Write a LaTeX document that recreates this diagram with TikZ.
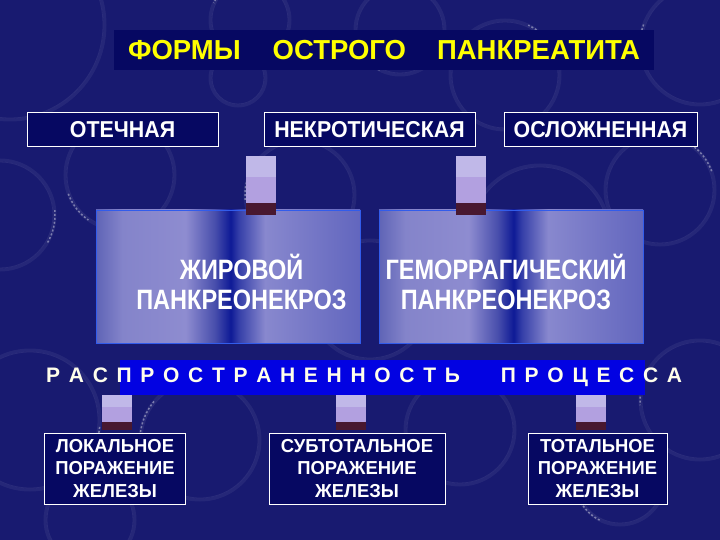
\documentclass[tikz,border=0pt]{standalone}
\usepackage{fontspec}
\setmainfont{Liberation Sans}
\newfontfamily\midf{Liberation Sans}[FakeStretch=0.93]
\newfontfamily\botf{Liberation Sans}[FakeStretch=0.98]
\newfontfamily\narf{Liberation Sans}[FakeStretch=0.84]
\usetikzlibrary{calc}
\definecolor{bgc}{RGB}{24,26,112}
\definecolor{navybox}{RGB}{6,8,98}
\definecolor{lavtop}{RGB}{192,184,232}
\definecolor{lavmid}{RGB}{178,160,224}
\definecolor{barmar}{RGB}{72,24,48}
\definecolor{bandblue}{RGB}{2,2,226}
\definecolor{ttl}{RGB}{255,255,0}
\definecolor{edgeblue}{RGB}{50,92,235}
\definecolor{g0}{RGB}{95,100,182}
\definecolor{g1}{RGB}{132,132,202}
\definecolor{g2}{RGB}{142,140,208}
\definecolor{g3}{RGB}{72,78,172}
\definecolor{g4}{RGB}{14,26,150}
\definecolor{g5}{RGB}{52,62,168}
\definecolor{g6}{RGB}{136,136,206}
\definecolor{g7}{RGB}{98,102,190}
\pgfdeclarehorizontalshading{glassy}{100bp}{color(0bp)=(g0); color(25bp)=(g0); color(30bp)=(g1); color(42bp)=(g2); color(47.5bp)=(g3); color(50.5bp)=(g4); color(52bp)=(g5); color(57bp)=(g6); color(75bp)=(g7); color(100bp)=(g7)}
\tikzset{
  bub/.style={draw=white, draw opacity=0.06, line width=3pt},
  bubin/.style={draw=white, draw opacity=0.08, line width=0.8pt},
  hl/.style={draw=white, draw opacity=0.4, line width=1.5pt, dash pattern=on 2pt off 2pt},
  titlebox/.style={rectangle, fill=navybox, minimum width=540pt, minimum height=40pt, inner sep=0pt,
    text=ttl, font=\bfseries\fontsize{27.5}{30}\selectfont, text height=19.7pt, text depth=0pt},
  toplbl/.style={rectangle, draw=white, line width=0.9pt, fill=navybox, minimum height=34pt, inner sep=0pt,
    text=white, font=\midf\bfseries\fontsize{23}{26}\selectfont, text height=16.5pt, text depth=0pt},
  glassbox/.style={rectangle, shade, shading=glassy, draw=edgeblue, line width=0.8pt,
    minimum width=264pt, minimum height=133pt, inner sep=0pt},
  glasstxt/.style={inner sep=0pt, align=center, text=white, font=\narf\bfseries\fontsize{28}{30}\selectfont},
  band/.style={rectangle, fill=bandblue, minimum width=525pt, minimum height=35pt, inner sep=0pt},
  bandtxt/.style={inner sep=0pt, text=white!92!yellow, font=\bfseries\fontsize{21}{24}\selectfont},
  botbox/.style={rectangle, draw=white, line width=0.9pt, fill=navybox, minimum height=71pt, inner sep=0pt,
    align=center, text=white, font=\botf\bfseries\fontsize{18.8}{22.5}\selectfont},
  barA/.style={draw=lavtop, line width=30pt, line cap=butt},
  barB/.style={draw=lavmid, line width=30pt, line cap=butt},
  barC/.style={draw=barmar, line width=30pt, line cap=butt}
}
\newcommand\gp{\hspace{8.7pt}}
\begin{document}
\begin{tikzpicture}[x=1pt,y=-1pt]
\fill[bgc] (0,0) rectangle (720,540);
\useasboundingbox (0,0) rectangle (720,540);
% bubbles
\foreach \bx/\by/\br/\ba in {10/25/95/20, 120/175/55/200, 0/215/55/330, 238/78/28/60, 300/195/55/150,
  400/30/45/210, 505/75/55/30, 700/45/60/160, 540/235/70/200, 660/190/55/20, 30/420/70/320,
  200/440/60/140, 460/430/55/200, 700/400/60/150, 370/300/60/40, 620/480/45/210, 90/520/45/30, 250/20/40/120}{
  \draw[bub] (\bx,\by) circle (\br pt);
  \draw[bubin] (\bx,\by) circle (\br pt - 2pt);
  \draw[hl] (\bx,\by) ++(\ba:\br pt) arc (\ba:\ba+35:\br pt);
}
% title
\node[titlebox] (title) at (384,50) {ФОРМЫ\hspace{32pt}ОСТРОГО\hspace{31pt}ПАНКРЕАТИТА};
% top labels
\node[toplbl, minimum width=191pt] (ote) at (122.5,129) {ОТЕЧНАЯ};
\node[toplbl, minimum width=211pt] (nek) at (369.5,129) {НЕКРОТИЧЕСКАЯ};
\node[toplbl, minimum width=193pt] (osl) at (600.5,129) {ОСЛОЖНЕННАЯ};
% necrosis boxes
\node[glassbox] (fat) at (228,276.5) {};
\node[glassbox] (hem) at (511,276.5) {};
\node[glasstxt] (fattxt) at ($(fat.center)+(13.5,5)$) {ЖИРОВОЙ\\ПАНКРЕОНЕКРОЗ};
\node[glasstxt] (hemtxt) at ($(hem.center)+(-5,5)$) {ГЕМОРРАГИЧЕСКИЙ\\ПАНКРЕОНЕКРОЗ};
% upper connectors
\coordinate (u1) at ($(nek.south west)+(-3,10)$);
\coordinate (u2) at ($(nek.south east)+(-4,10)$);
\foreach \u/\t in {u1/fat, u2/hem}{
  \draw[barA] (\u) -- ($(\u)+(0,21)$);
  \draw[barB] ($(\u)+(0,21)$) -- ($(\u |- \t.north)+(0,-7)$);
  \draw[barC] ($(\u |- \t.north)+(0,-7)$) -- ($(\u |- \t.north)+(0,5)$);
}
% spread band
\node[band] (band) at (382.5,377.5) {};
\node[bandtxt, anchor=base west] (bandtxt) at (46,382.3)
  {Р\gp А\gp С\gp П\gp Р\gp О\gp С\gp Т\gp Р\gp А\gp Н\gp Е\gp Н\gp Н\gp О\gp С\gp Т\gp Ь\hspace{41pt}П\gp Р\gp О\gp Ц\gp Е\gp С\gp С\gp А};
% bottom boxes
\node[botbox, minimum width=141pt] (loc) at (115,468.5) {ЛОКАЛЬНОЕ\\ПОРАЖЕНИЕ\\ЖЕЛЕЗЫ};
\node[botbox, minimum width=176pt] (sub) at (357,468.5) {СУБТОТАЛЬНОЕ\\ПОРАЖЕНИЕ\\ЖЕЛЕЗЫ};
\node[botbox, minimum width=139pt] (tot) at (597.5,468.5) {ТОТАЛЬНОЕ\\ПОРАЖЕНИЕ\\ЖЕЛЕЗЫ};
% lower connectors
\coordinate (l1) at ($(loc.north)+(2,0)$);
\coordinate (l2) at ($(sub.north)+(-6,0)$);
\coordinate (l3) at ($(tot.north)+(-7,0)$);
\foreach \l in {l1,l2,l3}{
  \draw[barA] (\l |- band.south) -- ($(\l |- band.south)+(0,12)$);
  \draw[barB] ($(\l |- band.south)+(0,12)$) -- ($(\l)+(0,-11)$);
  \draw[barC] ($(\l)+(0,-11)$) -- ($(\l)+(0,-3)$);
}
\end{tikzpicture}
\end{document}
